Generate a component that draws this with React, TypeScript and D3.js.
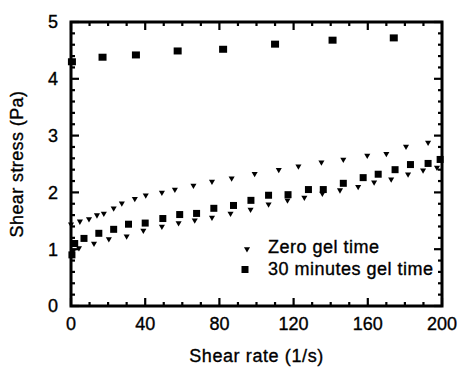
import * as d3 from 'd3'

// zero gel time, upper run
const zeroARate = [0, 4.8, 9.7, 14, 17.7, 23, 27.4, 34.4, 40.3, 49, 56, 66, 76, 86.6, 99, 112, 122.6, 135, 146.8, 159.7, 170, 180.6, 192.5]
const zeroAStress = [1.44, 1.49, 1.53, 1.6, 1.63, 1.72, 1.81, 1.89, 1.95, 2.0, 2.05, 2.12, 2.19, 2.25, 2.33, 2.4, 2.46, 2.53, 2.58, 2.65, 2.68, 2.81, 2.88]

// zero gel time, lower run
const zeroBRate = [1, 4.3, 12.4, 20.4, 30, 39, 49, 58, 66.7, 76, 86, 96.8, 106.5, 116.7, 125.8, 135.5, 145, 154.8, 163.4, 172.6, 181.7, 189.8, 197.3]
const zeroBStress = [0.96, 1.02, 1.1, 1.18, 1.23, 1.33, 1.4, 1.46, 1.51, 1.56, 1.63, 1.7, 1.79, 1.86, 1.91, 1.98, 2.04, 2.1, 2.18, 2.23, 2.32, 2.39, 2.44]

// 30 minutes gel time
const gelLowRate = [0.5, 2, 7, 15, 23, 31, 40, 49.5, 58.6, 67.7, 77, 87.6, 97, 106.5, 117, 128, 136, 146.8, 157.5, 165.6, 174.7, 183, 192.5, 199]
const gelLowStress = [0.9, 1.1, 1.19, 1.28, 1.35, 1.44, 1.46, 1.54, 1.61, 1.63, 1.72, 1.77, 1.86, 1.95, 1.96, 2.05, 2.05, 2.16, 2.26, 2.32, 2.4, 2.49, 2.51, 2.58]
const gelHighRate = [0.5, 17, 35, 57.5, 82, 110, 141, 174]
const gelHighStress = [4.3, 4.38, 4.42, 4.49, 4.52, 4.61, 4.68, 4.72]

const xTicks = [0, 40, 80, 120, 160, 200]
const yTicks = [0, 1, 2, 3, 4, 5]
const legendLabels = ['Zero gel time', '30 minutes gel time']

const FONT = '"Liberation Sans", Arial, Helvetica, sans-serif'
// scanned print looks slightly heavier than the regular face
const INK = { fill: '#000', stroke: '#000', strokeWidth: 0.35 }

export default function App() {
  const W = 462, H = 367
  const m = { left: 71, right: 442, top: 22, bottom: 306 }

  const x = d3.scaleLinear().domain([0, 200]).range([m.left, m.right])
  const y = d3.scaleLinear().domain([0, 5]).range([m.bottom, m.top])

  const dotPath = d3.symbol(d3.symbolTriangle, 16)() as string

  const zip = (a: number[], b: number[]) => a.map((v, i) => [v, b[i]])
  const dots = [...zip(zeroARate, zeroAStress), ...zip(zeroBRate, zeroBStress)]
  const lowSquares = zip(gelLowRate, gelLowStress)
  const highSquares = zip(gelHighRate, gelHighStress)

  const xMinor = d3.range(0, 201, 10)
  const yMinor = d3.range(0, 5.01, 0.2)

  return (
    <svg width={W} height={H} style={{ position: 'absolute', left: 0, top: 0, background: '#fff' }} fontFamily={FONT}>
      {/* ticks, inward on all four sides */}
      <g stroke="#000" strokeWidth={2.2}>
        {xMinor.map(v => {
          const len = v % 40 === 0 ? 8 : 4
          return (
            <g key={'x' + v}>
              <line x1={x(v)} x2={x(v)} y1={m.bottom} y2={m.bottom - len} />
              <line x1={x(v)} x2={x(v)} y1={m.top} y2={m.top + len} />
            </g>
          )
        })}
        {yMinor.map(v => {
          const len = Math.abs(v - Math.round(v)) < 1e-6 ? 8 : 4
          return (
            <g key={'y' + v.toFixed(1)}>
              <line x1={m.left} x2={m.left + len} y1={y(v)} y2={y(v)} />
              <line x1={m.right} x2={m.right - len} y1={y(v)} y2={y(v)} />
            </g>
          )
        })}
      </g>
      <rect x={m.left} y={m.top} width={m.right - m.left} height={m.bottom - m.top}
        fill="none" stroke="#000" strokeWidth={3} />

      <g {...INK} fontSize={18}>
        {xTicks.map(v => (
          <text key={'xl' + v} x={x(v)} y={330} textAnchor="middle">{v}</text>
        ))}
        {yTicks.map(v => (
          <text key={'yl' + v} x={58} y={y(v)} dy="0.35em" textAnchor="end">{v}</text>
        ))}

        <text x={(m.left + m.right) / 2} y={362} textAnchor="middle" letterSpacing={0.6}>
          Shear rate (1/s)
        </text>
        <text transform={`translate(23,${(m.top + m.bottom) / 2}) rotate(-90)`} textAnchor="middle"
          letterSpacing={0.4}>
          Shear stress (Pa)
        </text>

        <text x={268} y={253} letterSpacing={0.5}>{legendLabels[0]}</text>
        <text x={268} y={275} letterSpacing={0.5}>{legendLabels[1]}</text>
      </g>

      {dots.map((d, i) => (
        <path key={'d' + i} d={dotPath} transform={`translate(${x(d[0])},${y(d[1])}) rotate(180)`} fill="#000" />
      ))}
      {lowSquares.map((d, i) => (
        <rect key={'s' + i} x={x(d[0]) - 3.5} y={y(d[1]) - 3.5} width={7} height={7} fill="#000" />
      ))}
      {highSquares.map((d, i) => (
        <rect key={'h' + i} x={x(d[0]) - 4} y={y(d[1]) - 3.5} width={8} height={7} fill="#000" />
      ))}

      {/* legend markers */}
      <path d={dotPath} transform="translate(247,249) rotate(180)" fill="#000" />
      <rect x={241.5} y={266} width={7} height={7} fill="#000" />
    </svg>
  )
}
